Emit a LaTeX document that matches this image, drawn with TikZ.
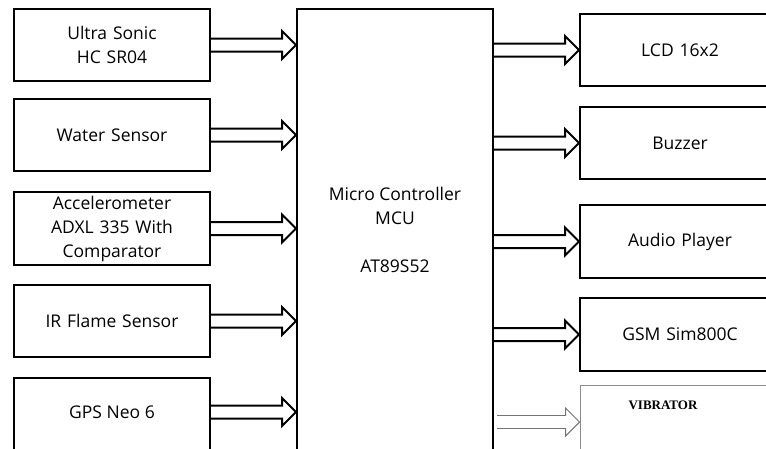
\documentclass[tikz,border=0pt]{standalone}
\usepackage{fontspec}
\setmainfont{Open Sans}
\newfontfamily\vibfont{Liberation Serif}
\usetikzlibrary{calc,positioning}
\tikzset{
  lbl/.style={font=\fontsize{17.5}{24}\selectfont},
  blk/.style={draw=black, line width=2pt, fill=white, minimum width=196pt, text width=190pt, align=center, inner sep=0pt, lbl},
  barrowstyle/.style={draw=black, line width=2pt, fill=white, line join=miter},
  garrowstyle/.style={draw=black!55, line width=0.9pt, fill=white, line join=miter},
}
\newcommand\blkarrow[3]{%
  \draw[#1] ($(#2)+(0,6.5pt)$) -- ($(#3)+(-14pt,6.5pt)$) -- ($(#3)+(-14pt,14pt)$) -- (#3)
    -- ($(#3)+(-14pt,-14pt)$) -- ($(#3)+(-14pt,-6.5pt)$) -- ($(#2)+(0,-6.5pt)$);}
\begin{document}
\begin{tikzpicture}[x=1pt,y=-1pt]
\useasboundingbox (0,0) rectangle (766,448);
\begin{scope}
\clip (0,0) rectangle (766,448);
% left column
\node[blk, minimum height=72pt] (us) at (112,45) {Ultra Sonic\\HC SR04};
\node[blk, minimum height=72pt] (ws) at (112,135) {Water Sensor};
\node[blk, minimum height=73pt] (ac) at (112,228.5) {Accelerometer\\ADXL 335 With\\Comparator};
\node[blk, minimum height=72pt] (ir) at (112,321) {IR Flame Sensor};
\node[blk, minimum height=80pt] (gps) at (112,418) {};
\node[lbl] (gpst) at (112,412) {GPS Neo 6};
% MCU
\node[blk, minimum height=450pt] (mcu) at (395,234) {};
\node[lbl, align=center] (mcut) at (395,206) {Micro Controller\\MCU};
\node[lbl] (mcum) at (395,266) {AT89S52};
% right column
\node[blk, minimum width=200pt, minimum height=72pt, text width=180pt] (lcd) at (680,50) {LCD 16x2};
\node[blk, minimum width=200pt, minimum height=72pt, text width=180pt] (bz) at (680,143) {Buzzer};
\node[blk, minimum width=200pt, minimum height=73pt, text width=180pt] (ap) at (680,241.5) {Audio Player};
\node[blk, minimum width=200pt, minimum height=73pt, text width=180pt] (gsm) at (680,334.5) {GSM Sim800C};
\node[draw=black!45, line width=0.8pt, fill=white, minimum width=200pt, minimum height=80pt, inner sep=0pt] (vib) at (680,425) {};
\node[font=\vibfont\bfseries\fontsize{13}{15}\selectfont] (vibt) at (663,405) {VIBRATOR};
% input arrows
\blkarrow{barrowstyle}{us.east}{mcu.west |- us.east}
\blkarrow{barrowstyle}{ws.east}{mcu.west |- ws.east}
\blkarrow{barrowstyle}{ac.east}{mcu.west |- ac.east}
\blkarrow{barrowstyle}{ir.east}{mcu.west |- ir.east}
\blkarrow{barrowstyle}{gps.east |- gpst}{mcu.west |- gpst}
% output arrows
\blkarrow{barrowstyle}{mcu.east |- lcd.west}{lcd.west}
\blkarrow{barrowstyle}{mcu.east |- bz.west}{bz.west}
\blkarrow{barrowstyle}{mcu.east |- ap.west}{ap.west}
\blkarrow{barrowstyle}{mcu.east |- gsm.west}{gsm.west}
\coordinate (vs) at ($(mcu.east |- 0,422)+(3,0)$);
\blkarrow{garrowstyle}{vs}{vib.west |- vs}
\end{scope}
\end{tikzpicture}
\end{document}
